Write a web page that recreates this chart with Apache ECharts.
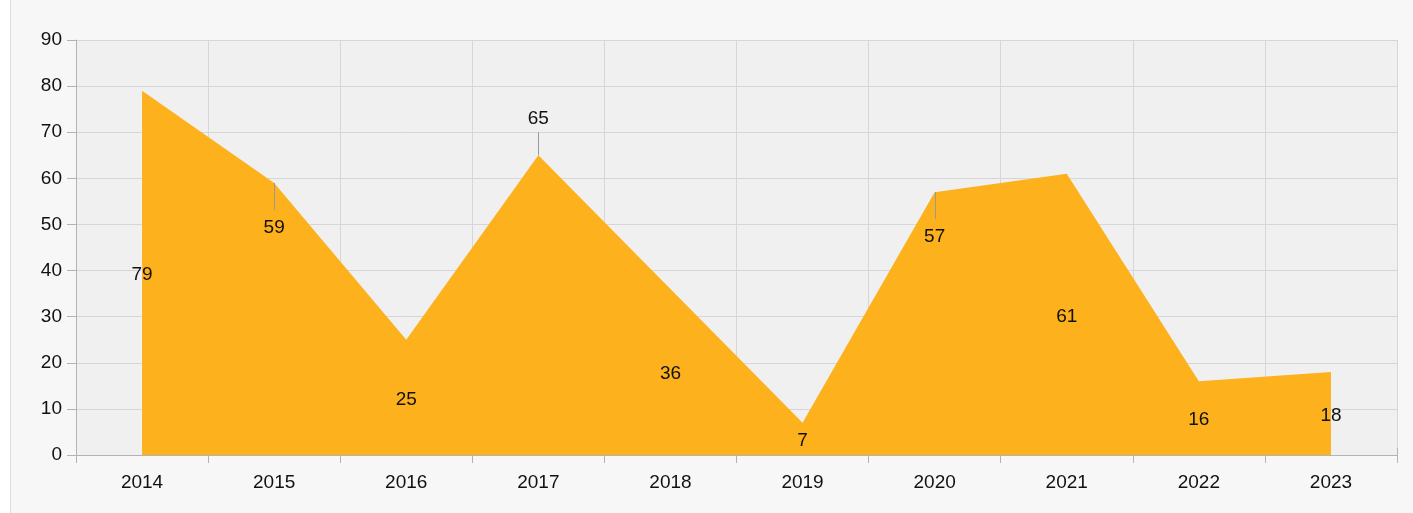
<!DOCTYPE html>
<html>
<head>
<meta charset="utf-8">
<script src="https://cdn.jsdelivr.net/npm/echarts@6/dist/echarts.min.js"></script>
<style>
  html, body { margin: 0; padding: 0; background: #ffffff; }
  #chart { width: 1413px; height: 513px; }
</style>
</head>
<body>
<div id="chart"></div>
<script>
const categories = ['2014', '2015', '2016', '2017', '2018', '2019', '2020', '2021', '2022', '2023'];
const values = [79, 59, 25, 65, 36, 7, 57, 61, 16, 18];
const yTicks = { min: 0, max: 90, interval: 10 };
// label placement style per point (not data): centre of the area, or moved with a leader line
const labelModes = ['center', 'below', 'center', 'above', 'center', 'center', 'below', 'center', 'center', 'center'];

const textColor = '#111111';
const font = 'Liberation Sans, Arial, sans-serif';

const chart = echarts.init(document.getElementById('chart'), null, { renderer: 'canvas' });

const option = {
  backgroundColor: '#f7f7f7',
  animation: false,
  graphic: [
    { type: 'rect', shape: { x: 0, y: 0, width: 10, height: 513 }, style: { fill: '#ffffff' }, silent: true },
    { type: 'line', shape: { x1: 10.5, y1: 0, x2: 10.5, y2: 513 }, style: { stroke: '#dedede', lineWidth: 1 }, silent: true }
  ],
  grid: {
    left: 76, right: 16, top: 40, bottom: 58,
    show: true, backgroundColor: '#f0f0f0', borderWidth: 0
  },
  xAxis: [{
    type: 'category',
    data: categories,
    boundaryGap: true,
    axisLine: { show: true, lineStyle: { color: '#b3b3b3', width: 1 } },
    axisTick: { show: true, length: 8, alignWithLabel: false, lineStyle: { color: '#b3b3b3' } },
    axisLabel: { color: textColor, fontSize: 19, fontFamily: font, margin: 18 },
    splitLine: { show: true, lineStyle: { color: '#d6d6d6', width: 1 } }
  }, {
    type: 'category',
    data: categories,
    position: 'bottom',
    boundaryGap: true,
    axisLine: { show: false },
    axisTick: { show: true, inside: true, length: 7, lineStyle: { color: '#b3b3b3' } },
    axisLabel: { show: false },
    splitLine: { show: false }
  }],
  yAxis: {
    type: 'value',
    min: yTicks.min, max: yTicks.max, interval: yTicks.interval,
    axisLine: { show: true, lineStyle: { color: '#b3b3b3', width: 1 } },
    axisTick: { show: true, length: 9, lineStyle: { color: '#b3b3b3' } },
    axisLabel: { color: textColor, fontSize: 19, fontFamily: font, margin: 14 },
    splitLine: { show: true, lineStyle: { color: '#d6d6d6', width: 1 } }
  },
  series: [{
    type: 'line',
    data: values,
    symbol: 'none',
    lineStyle: { width: 0 },
    areaStyle: { color: '#fdb11c', opacity: 1 },
    z: 2
  }, {
    type: 'custom',
    data: values.map((v, i) => [i, v]),
    encode: { x: 0, y: 1 },
    z: 5,
    silent: true,
    renderItem: function (params, api) {
      const idx = params.dataIndex;
      const val = api.value(1);
      const p = api.coord([idx, val]);
      const mid = api.coord([idx, val / 2]);
      const mode = labelModes[idx];
      const children = [];
      let ty = mid[1] + 2;
      if (mode === 'below') {
        children.push({ type: 'line', shape: { x1: Math.round(p[0]) + 0.5, y1: p[1], x2: Math.round(p[0]) + 0.5, y2: p[1] + 27 }, style: { stroke: '#9a9a9a', lineWidth: 1 } });
        ty = p[1] + 45;
      } else if (mode === 'above') {
        children.push({ type: 'line', shape: { x1: Math.round(p[0]) + 0.5, y1: p[1] - 23, x2: Math.round(p[0]) + 0.5, y2: p[1] }, style: { stroke: '#9a9a9a', lineWidth: 1 } });
        ty = p[1] - 37;
      }
      children.push({
        type: 'text',
        style: {
          x: p[0], y: ty,
          text: String(val),
          fill: textColor,
          font: '19px ' + font,
          align: 'center',
          verticalAlign: 'middle'
        }
      });
      return { type: 'group', children: children };
    }
  }]
};
chart.setOption(option);
</script>
</body>
</html>
